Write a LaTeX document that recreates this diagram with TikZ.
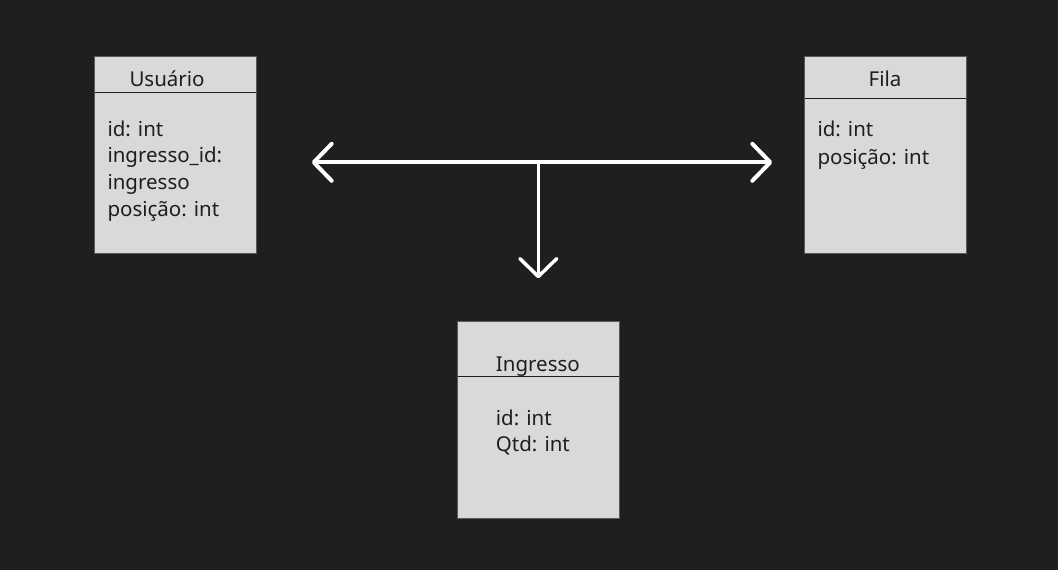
\documentclass[tikz,border=0pt]{standalone}
\usepackage{fontspec}
\setmainfont{Noto Sans}
\usetikzlibrary{arrows.meta}
\definecolor{bgc}{HTML}{1F1F1F}
\definecolor{boxfill}{HTML}{D9D9D9}
\definecolor{boxline}{HTML}{5A5A5A}
\definecolor{txt}{HTML}{1E1E1E}
\tikzset{
  classbox/.style={draw=boxline, fill=boxfill, line width=1pt, anchor=north west, inner sep=0pt, minimum width=161.7pt, minimum height=197.3pt},
  divider/.style={draw=txt, line width=1.2pt},
  lbl/.style={anchor=base west, inner sep=0pt, text=txt, font=\fontsize{20.5}{26.7}\selectfont},
  conn/.style={draw=white, line cap=round, line join=round},
  chev/.tip={Straight Barb[length=18pt, width=37pt, round]}
}
\begin{document}
\begin{tikzpicture}[x=1pt, y=-1pt]
\useasboundingbox[fill=bgc] (0,0) rectangle (1058,570);
% Usuario
\node[classbox] (usuario) at (94.3,56) {};
\draw[divider] (94.8,92.3) -- (255.5,92.3);
\node[lbl] (usuarioT) at (129.3,86) {Usuário};
\node[lbl] (usuario1) at (107.3,136) {id: int};
\node[lbl] (usuario2) at (107.3,162.7) {ingresso\_id:};
\node[lbl] (usuario3) at (107.3,189.3) {ingresso};
\node[lbl] (usuario4) at (107.3,216) {posição: int};
% Fila
\node[classbox] (fila) at (804.3,56) {};
\draw[divider] (804.8,98.3) -- (965.5,98.3);
\node[lbl, anchor=base] (filaT) at (885,86.7) {Fila};
\node[lbl] (fila1) at (817.3,136.7) {id: int};
\node[lbl] (fila2) at (817.3,164) {posição: int};
% Ingresso
\node[classbox] (ingresso) at (457.3,320.7) {};
\draw[divider] (457.8,376.7) -- (618.8,376.7);
\node[lbl] (ingT) at (495.7,371) {Ingresso};
\node[lbl] (ing1) at (495.7,425) {id: int};
\node[lbl] (ing2) at (495.7,451.7) {Qtd: int};
% connectors
\coordinate (L) at (311.7,162.3);
\coordinate (R) at (772.3,162.3);
\coordinate (J) at (538.3,162.3);
\coordinate (D) at (538.3,278.3);
\draw[conn, line width=4pt, chev-chev] (L) -- (R);
\draw[conn, line width=3.5pt, -chev] (J) -- (D);
\end{tikzpicture}
\end{document}
